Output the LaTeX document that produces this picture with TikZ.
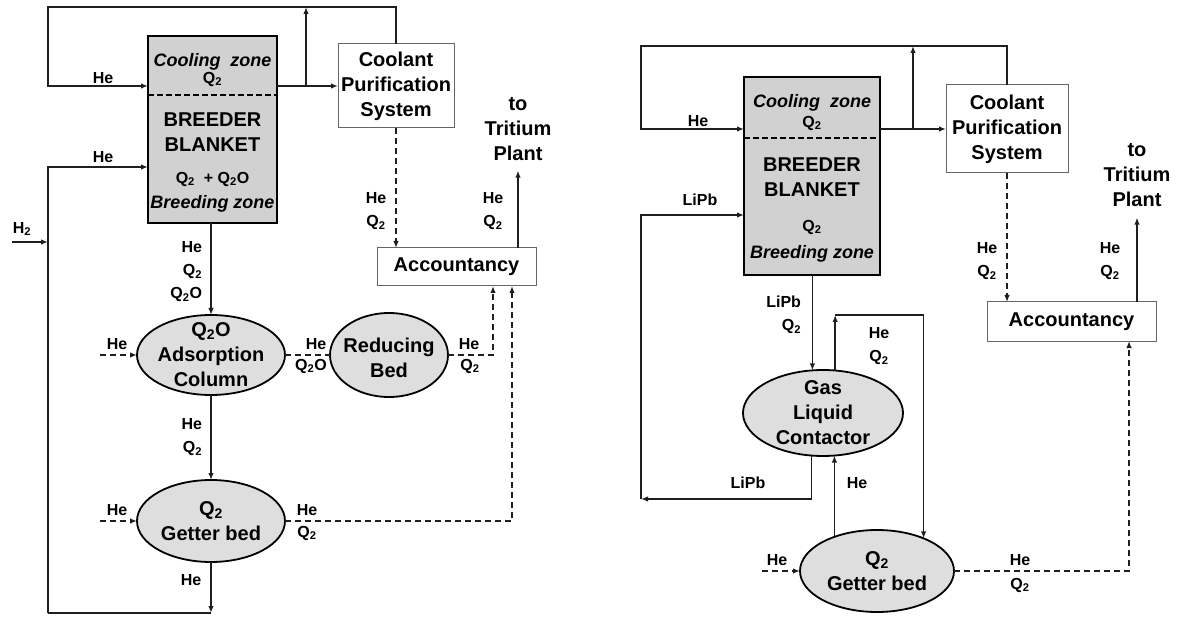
\documentclass[tikz,border=0pt]{standalone}
\usepackage{fontspec}
\setmainfont{Liberation Sans}
\usepackage{xcolor}
\definecolor{blanketfill}{rgb}{0.82,0.82,0.82}
\definecolor{unitfill}{rgb}{0.87,0.87,0.87}
\definecolor{boxdraw}{rgb}{0.40,0.40,0.40}
\definecolor{flowdraw}{rgb}{0.12,0.12,0.12}
\usepackage{tikz}
\usetikzlibrary{positioning,arrows.meta,shapes.geometric}
\newcommand{\boxfont}{\fontsize{20}{25}\selectfont\bfseries}
\newcommand{\zonefont}{\fontsize{18}{20}\selectfont\bfseries\itshape}
\newcommand{\lblfont}{\fontsize{16}{23}\selectfont\bfseries}

\begin{document}
\begin{tikzpicture}[
  x=1pt, y=-1pt,
  every node/.style={inner sep=0pt, outer sep=0pt, align=center},
  blanketbox/.style={rectangle, draw=black, line width=2.6pt, fill=blanketfill},
  plainbox/.style  ={rectangle, draw=boxdraw, line width=1pt, fill=white, font=\boxfont},
  unitbox/.style   ={ellipse, draw=black, line width=1.8pt, fill=unitfill},
  bigtext/.style   ={font=\boxfont},
  zonetext/.style  ={font=\zonefont},
  stream/.style    ={font=\lblfont},
  pipe/.style      ={line width=1.6pt, draw=flowdraw},
  flow/.style      ={pipe, -{Latex[length=7pt,width=5.5pt]}},
  flowdash/.style  ={flow, dash pattern=on 6pt off 4pt},
  pipedash/.style  ={pipe, dash pattern=on 6pt off 4pt},
  zoneline/.style  ={line width=2pt, dash pattern=on 6pt off 3pt}
]
\useasboundingbox (0,0) rectangle (1177,617);

% ---- left: ceramic breeder ----
\node[blanketbox, minimum width=129pt, minimum height=187pt] (blanketL) at (212.5,129.5) {};
\node[plainbox, minimum width=116pt, minimum height=84pt] (coolL) at (396,86) {Coolant\\Purification\\System};
\node[plainbox, minimum width=159pt, minimum height=38pt] (acctL) at (456.5,267) {Accountancy};
\node[bigtext] (tritL) at (518,129) {to\\Tritium\\Plant};
\node[unitbox, minimum width=148pt, minimum height=80pt] (adsL) at (211,355) {};
\node[unitbox, minimum width=118pt, minimum height=84pt] (redL) at (389,355) {};
\node[unitbox, minimum width=148pt, minimum height=82pt] (getL) at (211,521) {};

\draw[zoneline] ([yshift=-59pt]blanketL.north west) -- ([yshift=-59pt]blanketL.north east);
\node[zonetext] at (212.5,62) {Cooling\ \ zone};
\node[stream] at (212.5,79) {Q\textsubscript{2}};
\node[bigtext] at (212.5,132) {BREEDER\\BLANKET};
\node[stream] at (212.5,179) {Q\textsubscript{2}\ \ + Q\textsubscript{2}O};
\node[zonetext] at (212.5,204) {Breeding zone};
\node[bigtext] at (adsL) {Q\textsubscript{2}O\\Adsorption\\Column};
\node[bigtext] at ([yshift=-3pt]redL.center) {Reducing\\Bed};
\node[bigtext] at (getL) {Q\textsubscript{2}\\Getter bed};

\coordinate (topL) at (48,7);
\coordinate (splitL) at (306,86);
\coordinate (bottomL) at (48,613);
\coordinate (h2L) at (12,242);
\coordinate (headsL) at (100,355);
\coordinate (hegetL) at (100,521);

\draw[flow] (coolL.north) |- (topL) |- ([yshift=-50pt]blanketL.north west);
\draw[flow] ([yshift=-50pt]blanketL.north east) -- (coolL.west);
\draw[flow] (splitL) -- (splitL |- topL);
\draw[flow] (bottomL) |- ([yshift=-131pt]blanketL.north west);
\draw[flow] (getL.south) -- (getL.south |- bottomL);
\draw[pipe] (getL.south |- bottomL) -- (bottomL);
\draw[flow] (h2L) -- (h2L -| bottomL);
\draw[flow] (adsL.north |- blanketL.south) -- (adsL.north);
\draw[flow] (adsL.south) -- (getL.north);
\draw[flowdash] (headsL) -- (adsL.west);
\draw[flowdash] (hegetL) -- (getL.west);
\draw[pipedash] (adsL.east) -- (redL.west);
\draw[flowdash] (redL.east) -| ([xshift=116pt]acctL.south west);
\draw[flowdash] (getL.east) -| ([xshift=135pt]acctL.south west);
\draw[flowdash] (coolL.south) -- (coolL.south |- acctL.north);
\draw[flow] (tritL.south |- acctL.north) -- ([yshift=-10pt]tritL.south);

\node[stream] at (103,78) {He};
\node[stream] at (103,157) {He};
\node[stream] at (22,229) {H\textsubscript{2}};
\node[stream, anchor=east, align=right] at (202,272) {He\\Q\textsubscript{2}\\Q\textsubscript{2}O};
\node[stream, anchor=east, align=right] at (202,437) {He\\Q\textsubscript{2}};
\node[stream] at (191,580) {He};
\node[stream] at (117,344) {He};
\node[stream] at (117,510) {He};
\node[stream] at (316,344) {He};
\node[stream] at (311,366) {Q\textsubscript{2}O};
\node[stream] at (469,344) {He};
\node[stream] at (470,366) {Q\textsubscript{2}};
\node[stream] at (307,510) {He};
\node[stream] at (307,533) {Q\textsubscript{2}};
\node[stream] at (376,211) {He\\Q\textsubscript{2}};
\node[stream] at (493,211) {He\\Q\textsubscript{2}};

% ---- right: liquid breeder ----
\node[blanketbox, minimum width=136pt, minimum height=198pt] (blanketR) at (812,176) {};
\node[plainbox, minimum width=122pt, minimum height=88pt] (coolR) at (1007,129) {Coolant\\Purification\\System};
\node[plainbox, minimum width=169pt, minimum height=39pt] (acctR) at (1071.5,321.5) {Accountancy};
\node[bigtext] (tritR) at (1137,175) {to\\Tritium\\Plant};
\node[unitbox, minimum width=160pt, minimum height=86pt] (glcR) at (823,413) {};
\node[unitbox, minimum width=154pt, minimum height=82pt] (getR) at (877,571) {};

\draw[zoneline] ([yshift=-61pt]blanketR.north west) -- ([yshift=-61pt]blanketR.north east);
\node[zonetext] at (812,103) {Cooling\ \ zone};
\node[stream] at (812,123) {Q\textsubscript{2}};
\node[bigtext] at (812,177) {BREEDER\\BLANKET};
\node[stream] at (812,227) {Q\textsubscript{2}};
\node[zonetext] at (812,254) {Breeding zone};
\node[bigtext] at (glcR) {Gas\\Liquid\\Contactor};
\node[bigtext] at (getR) {Q\textsubscript{2}\\Getter bed};

\coordinate (topR) at (641,46);
\coordinate (splitR) at (913,129);
\coordinate (lipbR) at (641,499);
\coordinate (turnR) at (923,315);
\coordinate (hegetR) at (762,571);

\draw[flow] (coolR.north) |- (topR) |- ([yshift=-52pt]blanketR.north west);
\draw[flow] ([yshift=-52pt]blanketR.north east) -- (coolR.west);
\draw[flow] (splitR) -- (splitR |- topR);
\draw[flow] (glcR.255.5) |- (lipbR);
\draw[flow] (lipbR) |- ([yshift=-138pt]blanketR.north west);
\draw[flow] (glcR.104.5 |- blanketR.south) -- (glcR.104.5);
\draw[flow] (glcR.74.2) -- (glcR.74.2 |- turnR);
\draw[flow] (glcR.74.2 |- turnR) -| (getR.35.6);
\draw[flow] (glcR.285.8 |- getR.140.7) -- (glcR.285.8);
\draw[flowdash] (hegetR) -- (getR.west);
\draw[flowdash] (getR.east) -| ([xshift=142pt]acctR.south west);
\draw[flowdash] (coolR.south) -- (coolR.south |- acctR.north);
\draw[flow] (tritR.south |- acctR.north) -- ([yshift=-11pt]tritR.south);

\node[stream] at (698,121) {He};
\node[stream] at (700,200) {LiPb};
\node[stream, anchor=east, align=right] at (801,315) {LiPb\\Q\textsubscript{2}};
\node[stream] at (879,346) {He\\Q\textsubscript{2}};
\node[stream] at (748,483) {LiPb};
\node[stream] at (857,483) {He};
\node[stream] at (777,560) {He};
\node[stream] at (1020,560) {He};
\node[stream] at (1020,585) {Q\textsubscript{2}};
\node[stream] at (987,261) {He\\Q\textsubscript{2}};
\node[stream] at (1110,261) {He\\Q\textsubscript{2}};

\end{tikzpicture}
\end{document}
